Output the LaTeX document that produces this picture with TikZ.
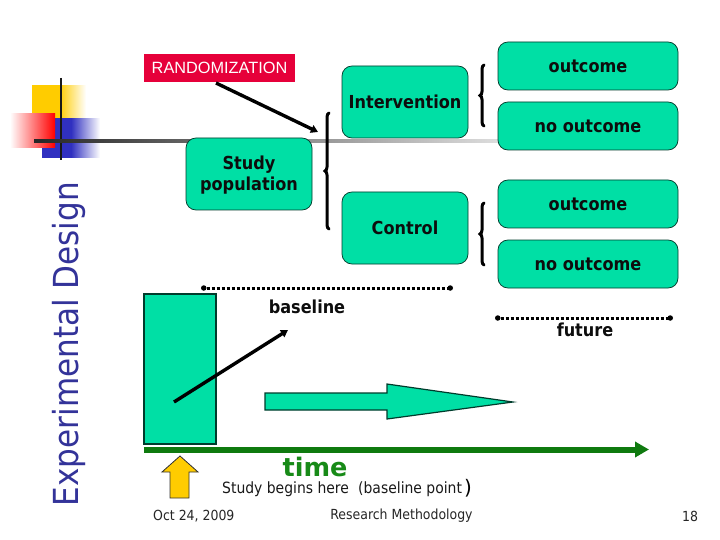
\documentclass[tikz,border=0pt]{standalone}
\usepackage{fontspec}
\setmainfont{DejaVu Sans}
\newfontfamily\cnd{DejaVu Sans Condensed}
\newfontfamily\arialf{Liberation Sans}
\usetikzlibrary{arrows.meta,decorations.pathreplacing}
\definecolor{teal1}{HTML}{00DFA5}
\definecolor{tealb}{HTML}{003C2C}
\definecolor{titleblue}{HTML}{333399}
\definecolor{rnd}{HTML}{E6003A}
\definecolor{timeg}{HTML}{0F7A0F}
\definecolor{timet}{HTML}{178A17}
\definecolor{yel}{HTML}{FFCC00}
\definecolor{blu}{HTML}{3030C0}
\tikzset{
  box/.style={draw=tealb,line width=0.75pt,fill=teal1,rounded corners=10pt,inner sep=0pt,align=center,font=\cnd\fontsize{17.9}{21}\selectfont\bfseries,text=black!95},
  lbl/.style={inner sep=0pt,text=black!95,font=\cnd\fontsize{17.9}{21}\selectfont\bfseries},
  foot/.style={inner sep=0pt,text=black!85,font=\cnd\fontsize{13.9}{16}\selectfont},
  brc/.style={draw=black,line width=3pt,line cap=round,decorate,decoration={brace,amplitude=4pt}},
  thickarrow/.style={draw=black,line width=3.4pt,-{Triangle[length=7pt,width=8pt]}},
  dots/.style={draw=black,line width=3pt,dash pattern=on 3pt off 2pt,{Circle[length=5.5pt,width=5.5pt,line width=0pt]}-{Circle[length=5.5pt,width=5.5pt,line width=0pt]}}
}
\begin{document}
\begin{tikzpicture}[x=1pt,y=-1pt]
\useasboundingbox (0,0) rectangle (720,540);
\fill[white] (0,0) rectangle (720,540);
% decoration
\fill[left color=yel,right color=white,middle color=yel] (32,86) rectangle (86,148);
\fill[left color=blu,right color=white,middle color=blu] (42,119) rectangle (100,158);
\fill[left color=white,right color=red] (10,114) rectangle (55,148);
\draw[line width=2.6pt,black!90] (61,78) -- (61,160);
\shade[left color=black!85,right color=black!10] (34,140) rectangle (520,143);
% boxes
\node[box,minimum width=180pt,minimum height=48pt] (o1) at (588,66) {outcome};
\node[box,minimum width=180pt,minimum height=48pt] (n1) at (588,126) {no outcome};
\node[box,minimum width=180pt,minimum height=48pt] (o2) at (588,204) {outcome};
\node[box,minimum width=180pt,minimum height=48pt] (n2) at (588,264) {no outcome};
\node[box,minimum width=126pt,minimum height=72pt] (int) at (405,102) {Intervention};
\node[box,minimum width=126pt,minimum height=72pt] (ctl) at (405,228) {Control};
\node[box,minimum width=126pt,minimum height=72pt] (pop) at (249,174) {};
\node[inner sep=0pt,align=center,text=black!95,font=\cnd\fontsize{17.9}{21}\selectfont\bfseries] (poptext) at (249,175) {Study\\population};
\node[fill=rnd,text=white,minimum width=151pt,minimum height=28pt,inner sep=0pt,font=\arialf\fontsize{16.3}{19}\selectfont] (rand) at (219.5,68) {RANDOMIZATION};
% title
\node[rotate=90,inner sep=0pt,text=titleblue,font=\cnd\fontsize{34.5}{40}\selectfont] (title) at (69,344) {Experimental Design};
% braces
\coordinate (b1b) at (329,229); \coordinate (b1t) at (329,113);
\coordinate (b2b) at (484,126); \coordinate (b2t) at (484,65);
\coordinate (b3b) at (484,265); \coordinate (b3t) at (484,203);
\draw[brc] (b1b) -- (b1t);
\draw[brc] (b2b) -- (b2t);
\draw[brc] (b3b) -- (b3t);
% arrows
\coordinate (r1) at (216,83); \coordinate (r2) at (318,132);
\draw[thickarrow] (r1) -- (r2);
% tall rect
\node[draw=tealb,line width=1.6pt,fill=teal1,minimum width=72pt,minimum height=150pt,inner sep=0pt] (bar) at (180,369) {};
\coordinate (a1) at (174,402); \coordinate (a2) at (288,330);
\draw[thickarrow] (a1) -- (a2);
% dotted
\coordinate (d1) at (201,288); \coordinate (d2) at (453,288);
\coordinate (d3) at (495,318); \coordinate (d4) at (673,318);
\draw[dots] (d1) -- (d2);
\draw[dots] (d3) -- (d4);
\node[lbl] (bl) at (307,306.5) {baseline};
\node[lbl] (fut) at (585,330) {future};
% block arrow
\draw[draw=tealb,line width=1.2pt,fill=teal1,miter limit=20] (265,393) -- (387,393) -- (387,384) -- (513,402) -- (387,419) -- (387,410) -- (265,410) -- cycle;
% time
\coordinate (t1) at (144,449.5); \coordinate (t2) at (649,449.5);
\draw[draw=timeg,line width=6pt,-{Triangle[length=14pt,width=15pt]}] (t1) -- (t2);
\node[inner sep=0pt,text=timet,font=\fontsize{25.5}{28}\selectfont\bfseries] (tm) at (315,467) {time};
\draw[draw=black!80,line width=0.8pt,fill=yel] (180,456) -- (198,472) -- (189,472) -- (189,498) -- (170,498) -- (170,472) -- (162,472) -- cycle;
\node[inner sep=0pt,anchor=west,text=black!90,font=\cnd\fontsize{15.5}{18}\selectfont] (sb) at (222,489) {Study begins here};
\node[inner sep=0pt,anchor=west,text=black!90,font=\cnd\fontsize{15.5}{18}\selectfont] (bp) at (358,489) {(baseline point};
\node[inner sep=0pt,anchor=west,text=black,font=\fontsize{20}{22}\selectfont] (par) at (464,488) {)};
% footer
\node[foot,anchor=west] (date) at (153,516) {Oct 24, 2009};
\node[foot] (rm) at (401.5,516) {Research Methodology};
\node[foot] (pg) at (690,516) {18};
\end{tikzpicture}
\end{document}
